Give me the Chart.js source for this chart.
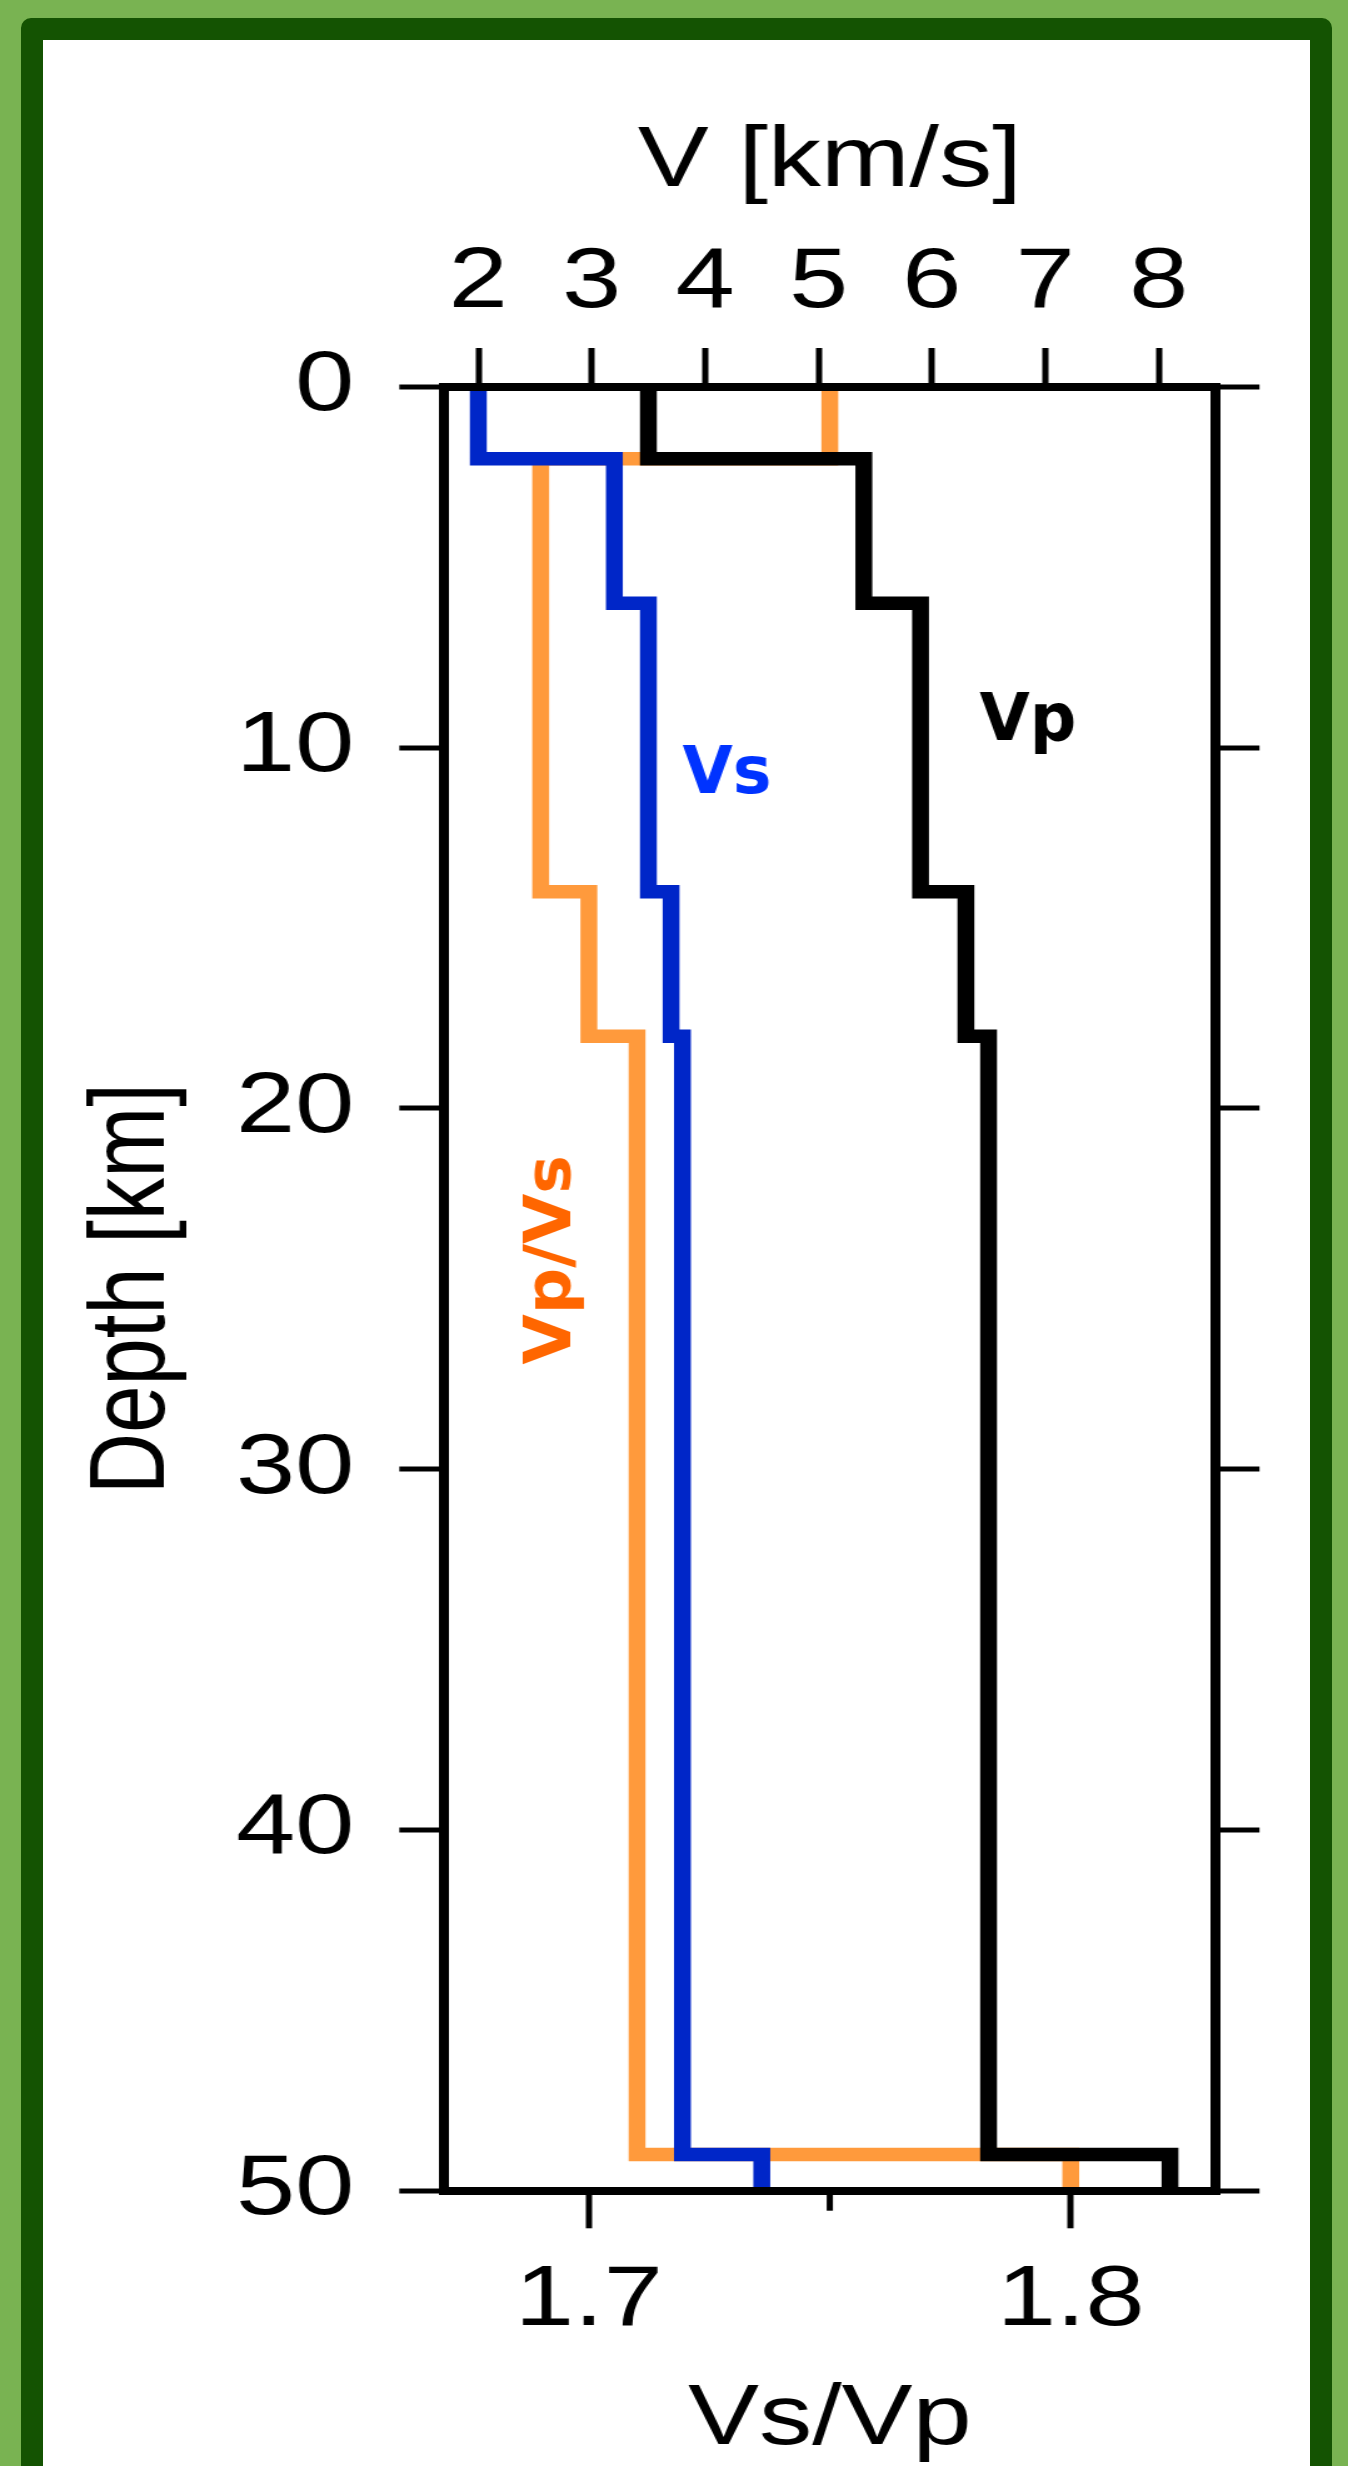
<!DOCTYPE html>
<html>
<head>
<meta charset="utf-8">
<script src="https://cdn.jsdelivr.net/npm/chart.js@4.4.1/dist/chart.umd.min.js"></script>
<style>
  html, body { margin: 0; padding: 0; }
  body { width: 1348px; height: 2466px; background: #79b352; position: relative; overflow: hidden; }
  #moldura { position: absolute; left: 21px; top: 18px; width: 1311px; height: 2500px; box-sizing: border-box;
             border: 22.5px solid #145302; border-radius: 10px 10px 0 0; background: #fff; }
  #perfil { position: absolute; left: 0; top: 0; }
</style>
</head>
<body>
<div id="moldura"></div>
<canvas id="perfil" width="1078" height="2466" style="width:1348px;height:2466px"></canvas>
<script>
/* DADOS - modelo de camadas */
const profundidade = [0, 2, 6, 14, 18, 49, 50];        // limites das camadas (km)
const vp   = [3.5, 5.4, 5.9, 6.3, 6.5, 8.1];           // km/s
const vs   = [2.0, 3.2, 3.5, 3.7, 3.8, 4.5];           // km/s
const vpvs = [1.75, 1.69, 1.69, 1.70, 1.71, 1.80];

const ticksV = [2, 3, 4, 5, 6, 7, 8];
const ticksProf = [0, 10, 20, 30, 40, 50];
const ticksRazao = [1.7, 1.8];
const ticksRazaoMenor = [1.75];

/* a figura original e esticada na horizontal */
const ESTICA = 1348 / 1078;

/* cada camada vira dois pontos (topo e base) */
function degraus(valores) {
  const pts = [];
  valores.forEach((v, i) => {
    pts.push({x: v, y: profundidade[i]});
    pts.push({x: v, y: profundidade[i + 1]});
  });
  return pts;
}

const fonteEixo = { family: "Liberation Sans", size: 85, lineHeight: 1 };
const borda = { display: true, color: "#000", width: 8, z: 1 };
const grade = { drawOnChartArea: false, drawTicks: true, color: "#000", lineWidth: 8, tickColor: "#000", tickWidth: 5 };
const fixos = (lista) => (s) => { s.ticks = lista.map(value => ({value})); };

/* traco menor + nomes das curvas */
const rotulos = {
  id: "rotulos",
  afterDraw(chart) {
    const {ctx, scales, chartArea} = chart;
    ctx.save();
    ctx.strokeStyle = "#000";
    ctx.lineWidth = 5;
    ticksRazaoMenor.forEach(t => {
      const x = scales.razao.getPixelForValue(t);
      ctx.beginPath();
      ctx.moveTo(x, chartArea.bottom);
      ctx.lineTo(x, chartArea.bottom + 20);
      ctx.stroke();
    });
    ctx.restore();

    ctx.save();
    ctx.scale(1 / ESTICA, 1);
    ctx.font = "bold 65px 'DejaVu Sans'";
    ctx.textBaseline = "alphabetic";
    ctx.textAlign = "left";
    ctx.fillStyle = "#0033ff";
    ctx.fillText("Vs", scales.vel.getPixelForValue(3.8) * ESTICA, scales.prof.getPixelForValue(11.26));
    ctx.fillStyle = "#000";
    ctx.fillText("Vp", scales.vel.getPixelForValue(6.42) * ESTICA, scales.prof.getPixelForValue(9.79));
    ctx.translate(scales.vel.getPixelForValue(2.815) * ESTICA, scales.prof.getPixelForValue(24.2));
    ctx.rotate(-Math.PI / 2);
    ctx.textAlign = "center";
    ctx.fillStyle = "#ff6600";
    ctx.fillText("Vp/Vs", 0, 0);
    ctx.restore();
  }
};

new Chart(document.getElementById("perfil"), {
  type: "line",
  data: {
    datasets: [
      { label: "Vp", data: degraus(vp), xAxisID: "vel", yAxisID: "prof", borderColor: "#000" },
      { label: "Vs", data: degraus(vs), xAxisID: "vel", yAxisID: "prof", borderColor: "#0026c8" },
      { label: "Vp/Vs", data: degraus(vpvs), xAxisID: "razao", yAxisID: "prof", borderColor: "#ff9a3c" }
    ]
  },
  options: {
    responsive: false,
    animation: false,
    indexAxis: "y",
    elements: {
      line: { borderWidth: 13.5, borderJoinStyle: "miter", tension: 0, fill: false },
      point: { radius: 0 }
    },
    plugins: { legend: { display: false }, tooltip: { enabled: false } },
    scales: {
      vel: {
        axis: "x", type: "linear", position: "top", min: 1.7, max: 8.5,
        afterBuildTicks: fixos(ticksV),
        afterFit: s => { s.height = 386.7; },
        ticks: { font: fonteEixo, color: "#000", padding: 22, maxRotation: 0, autoSkip: false },
        grid: { ...grade, tickLength: 38.7 },
        border: borda,
        title: { display: true, text: "V [km/s]", font: fonteEixo, color: "#000", padding: { top: 120, bottom: 0 } }
      },
      razao: {
        axis: "x", type: "linear", position: "bottom", min: 1.67, max: 1.83,
        afterBuildTicks: fixos(ticksRazao),
        afterFit: s => { s.height = 275.3; },
        ticks: { font: fonteEixo, color: "#000", padding: 31, maxRotation: 0, autoSkip: false },
        grid: { ...grade, tickLength: 37.6 },
        border: borda,
        title: { display: true, text: "Vs/Vp", font: fonteEixo, color: "#000", padding: { top: 0, bottom: 3 } }
      },
      prof: {
        axis: "y", type: "linear", position: "left", reverse: true, min: 0, max: 50,
        afterBuildTicks: fixos(ticksProf),
        afterFit: s => { s.width = 355.3; },
        ticks: { font: fonteEixo, color: "#000", padding: 36, autoSkip: false },
        grid: { ...grade, tickLength: 36 },
        border: borda,
        title: { display: true, text: "Depth [km]", font: fonteEixo, color: "#000", padding: { top: 65, bottom: 0 } }
      },
      profDir: {
        axis: "y", type: "linear", position: "right", reverse: true, min: 0, max: 50,
        afterBuildTicks: fixos(ticksProf),
        afterFit: s => { s.width = 106.1; },
        ticks: { display: false },
        grid: { ...grade, tickLength: 35.3 },
        border: borda
      }
    }
  },
  plugins: [rotulos]
});
</script>
</body>
</html>
